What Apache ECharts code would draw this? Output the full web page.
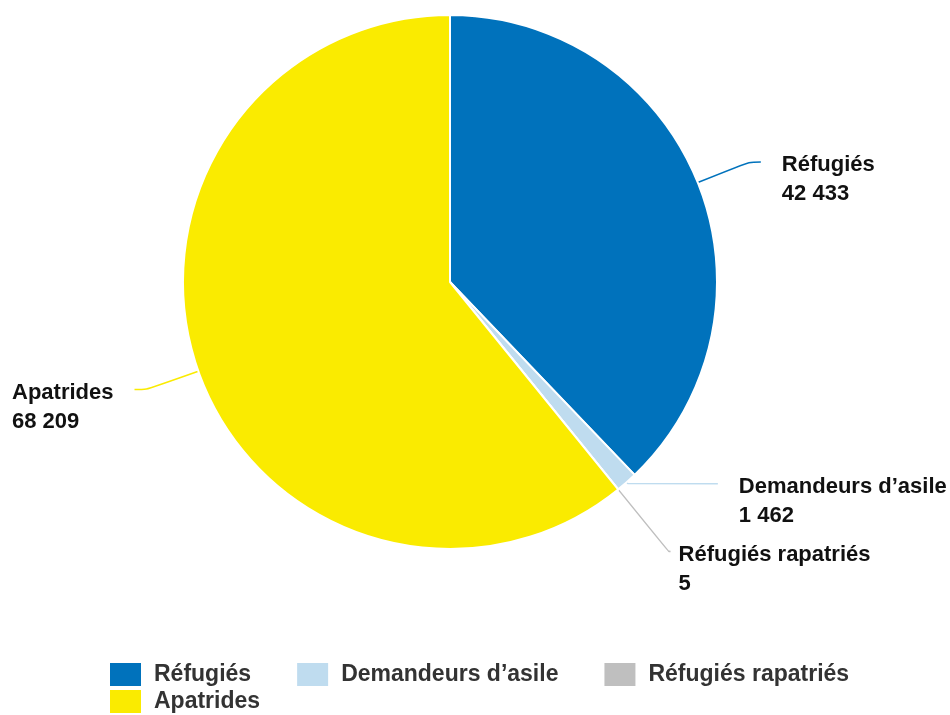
<!DOCTYPE html>
<html>
<head>
<meta charset="utf-8">
<script src="https://cdn.jsdelivr.net/npm/echarts@6/dist/echarts.min.js"></script>
<style>
html,body{margin:0;padding:0;background:#fff;}
#c{width:950px;height:715px;}
</style>
</head>
<body>
<div id="c"></div>
<script>
const categories = ['Réfugiés', 'Demandeurs d’asile', 'Réfugiés rapatriés', 'Apatrides'];
const values = [42433, 1462, 5, 68209];
const colors = ['#0072BC', '#BFDCEF', '#BFBFBF', '#FAEB00'];
const legendRow1 = ['Réfugiés', 'Demandeurs d’asile', 'Réfugiés rapatriés'];
const legendRow2 = ['Apatrides'];

const FONT = '"Liberation Sans", Arial, sans-serif';
function fmt(n) { return String(n).replace(/\B(?=(\d{3})+(?!\d))/g, ' '); }

const lineCfg = [
  { length: 55, length2: 12, dist: 21 },
  { length: 2, length2: 90, dist: 21 },
  { length: 80, length2: 2, dist: 8 },
  { length: 55, length2: 12, dist: 21 }
];

const data = categories.map((name, i) => ({
  name: name,
  value: values[i],
  itemStyle: { color: colors[i] },
  label: { show: true, distanceToLabelLine: lineCfg[i].dist },
  labelLine: { show: true, length: lineCfg[i].length, length2: lineCfg[i].length2, lineStyle: { color: colors[i] } }
}));

const chart = echarts.init(document.getElementById('c'));
const legendBase = {
  left: 108,
  orient: 'horizontal',
  itemWidth: 33,
  itemHeight: 25,
  itemGap: 44,
  padding: 0,
  icon: 'rect',
  selectedMode: false,
  textStyle: { fontFamily: FONT, fontSize: 23, fontWeight: 'bold', color: '#333333', padding: [0, 0, 0, 7] }
};
chart.setOption({
  animation: false,
  legend: [
    Object.assign({}, legendBase, { top: 661, data: legendRow1 }),
    Object.assign({}, legendBase, { top: 688, data: legendRow2 })
  ],
  series: [{
    type: 'pie',
    center: [450, 282],
    radius: 267,
    startAngle: 90,
    clockwise: true,
    avoidLabelOverlap: false,
    minShowLabelAngle: 0,
    labelLayout: { hideOverlap: false },
    itemStyle: { borderColor: '#ffffff', borderWidth: 2 },
    label: {
      show: true,
      padding: [35, 0, 0, 0],
      formatter: p => '{t|' + p.name + '}\n{t|' + fmt(p.value) + '}',
      rich: {
        t: { fontFamily: FONT, fontSize: 22, fontWeight: 'bold', color: '#111111', lineHeight: 29, align: 'left' }
      }
    },
    labelLine: { show: true, smooth: 0.3, lineStyle: { width: 1.5 } },
    emphasis: { disabled: true },
    data: data
  }]
});
</script>
</body>
</html>
